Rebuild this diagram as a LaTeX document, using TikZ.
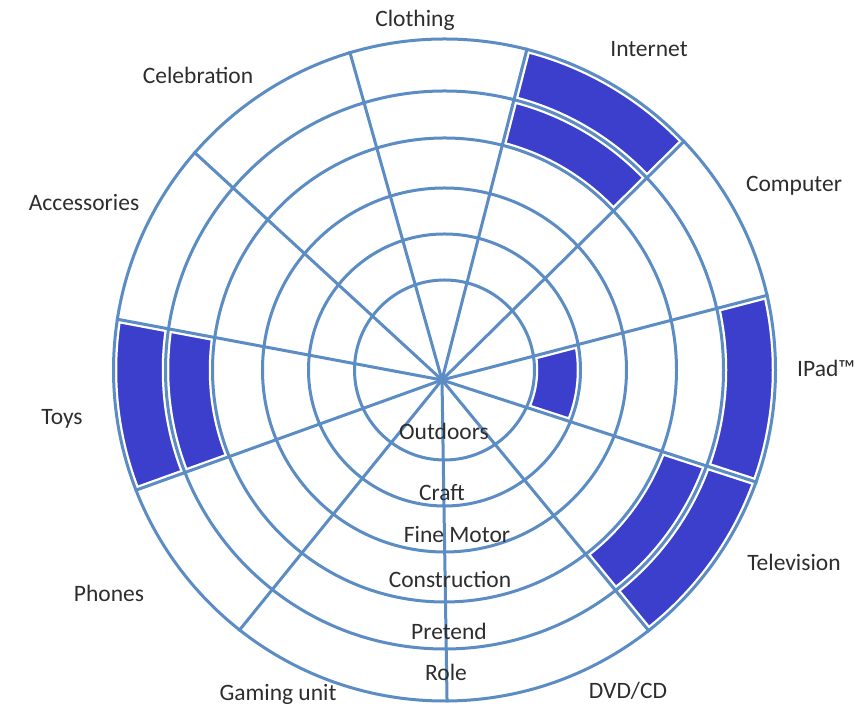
\documentclass[tikz,border=0pt]{standalone}
\usepackage{fontspec}
\setmainfont{Carlito}
\usetikzlibrary{calc}
\definecolor{gridblue}{RGB}{92,140,196}
\definecolor{cellblue}{RGB}{60,62,204}
\definecolor{labelgray}{RGB}{45,45,45}
\newcommand\blucell[4]{%
  \begin{scope}
    \clip (H) -- ($(H)+(#1:600)$) -- ($(H)+(#2:600)$) -- cycle;
    \fill[cellfill] (C) circle (#4) (C) circle (#3);
  \end{scope}}
\begin{document}
\begin{tikzpicture}[x=1pt,y=1pt,
  lbl/.style={font=\fontsize{23.5}{28}\selectfont, text=labelgray, inner sep=0pt, anchor=mid},
  halo/.style={draw=white, line width=7.5pt},
  gridline/.style={draw=gridblue, line width=3pt},
  cellfill/.style={fill=cellblue, even odd rule}]
\useasboundingbox (0,0) rectangle (855,711);
\coordinate (H) at (442,331);
\coordinate (C) at (444.5,341);
% filled cells
\blucell{44.6}{75.6}{232}{279}
\blucell{44.6}{75.6}{279}{331}
\blucell{-18}{14.6}{90}{136}
\blucell{-18}{14.6}{279}{331}
\blucell{-50.5}{-18}{232}{279}
\blucell{-50.5}{-18}{279}{331}
\blucell{169.4}{199.8}{232}{279}
\blucell{169.4}{199.8}{279}{331}
% halos
\begin{scope}
  \clip (C) circle (332.5);
  \foreach \a in {105.7,75.6,44.6,14.6,-18,-50.5,-89.1,231,199.8,169.4,137.4}
    \draw[halo] (H) -- ($(H)+(\a:400)$);
\end{scope}
\foreach \r in {90,136,182,232,279,331}
  \draw[halo] (C) circle (\r);
% grid lines
\begin{scope}
  \clip (C) circle (332.5);
  \foreach \a in {105.7,75.6,44.6,14.6,-18,-50.5,-89.1,231,199.8,169.4,137.4}
    \draw[gridline] (H) -- ($(H)+(\a:400)$);
\end{scope}
\foreach \r in {90,136,182,232,279,331}
  \draw[gridline] (C) circle (\r);
% outer labels
\node[lbl] (clothing) at (415,687) {Clothing};
\node[lbl] (internet) at (649,657) {Internet};
\node[lbl] (computer) at (794,522) {Computer};
\node[lbl, anchor=west] (ipad) at (797,343) {IPad™};
\node[lbl] (television) at (794,143) {Television};
\node[lbl] (dvd) at (628,15) {DVD/CD};
\node[lbl] (gaming) at (278,13) {Gaming unit};
\node[lbl] (phones) at (109,112) {Phones};
\node[lbl] (toys) at (62,289) {Toys};
\node[lbl] (accessories) at (84,503) {Accessories};
\node[lbl] (celebration) at (198,630) {Celebration};
% ring labels
\node[lbl] (outdoors) at (444,274) {Outdoors};
\node[lbl] (craft) at (442,213) {Craft};
\node[lbl] (finemotor) at (457,171) {Fine Motor};
\node[lbl] (construction) at (450,126) {Construction};
\node[lbl] (pretend) at (449,74) {Pretend};
\node[lbl] (role) at (446,33) {Role};
\end{tikzpicture}
\end{document}
